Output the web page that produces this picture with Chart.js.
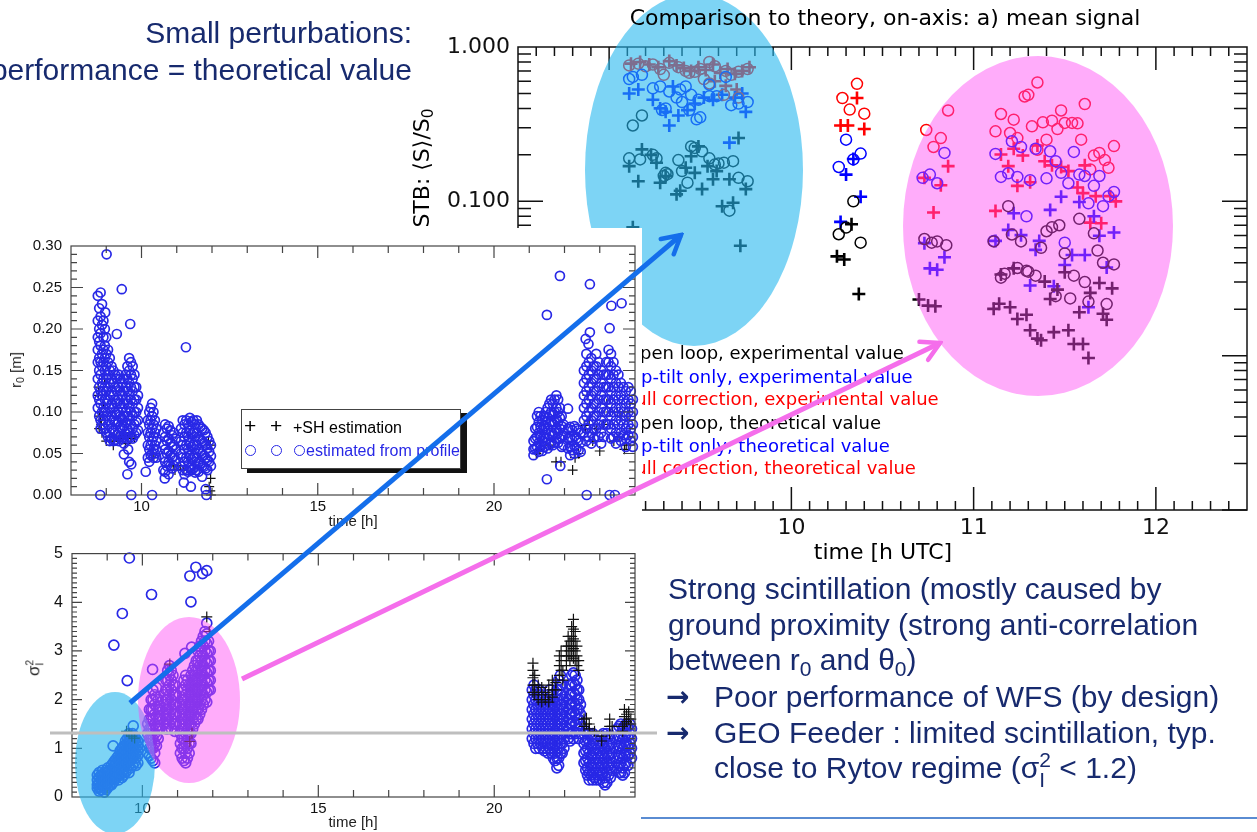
<!DOCTYPE html>
<html>
<head>
<meta charset="utf-8">
<title>Comparison to theory, on-axis</title>
<script src="https://cdn.jsdelivr.net/npm/chart.js@4.4.1/dist/chart.umd.min.js"></script>
<style>
  body { margin: 0; width: 1257px; height: 832px; overflow: hidden; background: #fff; position: relative;
         font-family: "Liberation Sans", Arial, sans-serif; }
  .abs { position: absolute; white-space: nowrap; }
  canvas { position: absolute; }
  sub { font-size: 0.7em; vertical-align: -0.3em; line-height: 0; }
  .slide { color: #172a6e; font-size: 30px; line-height: 36px; z-index: 5; }
  .arr { font-family: "DejaVu Sans", sans-serif; font-size: 28px; font-weight: bold; }
  .dv { font-family: "DejaVu Sans", sans-serif; }
  .leg { font-family: "DejaVu Sans", sans-serif; font-size: 18px; line-height: 22px; z-index: 2; left: 629px; }
  .axt { font-size: 15px; line-height: 18px; color: #222; }
  .stack { display: inline-block; vertical-align: middle; font-size: 0.6em; line-height: 0.95; text-align: left; }
  .ring { display: inline-block; width: 9px; height: 9px; border: 1.4px solid #2828e6; border-radius: 50%; }
</style>
</head>
<body>

<canvas id="meanChart" width="837" height="570" style="left:420px;top:0;z-index:1"></canvas>
<svg class="abs" width="1257" height="832" style="left:0;top:0;z-index:2">
  <ellipse cx="694" cy="170" rx="109" ry="176" fill="rgb(38,183,238)" fill-opacity="0.6"/>
  <ellipse cx="1038" cy="226" rx="135" ry="170" fill="rgb(255,71,244)" fill-opacity="0.45"/>
</svg>
<div class="abs dv" style="left:485px;width:800px;text-align:center;top:5px;font-size:22px;line-height:26px;z-index:2">Comparison to theory, on-axis: a) mean signal</div>
<div class="abs dv" style="left:421px;top:168px;font-size:22px;transform:translate(-50%,-50%) rotate(-90deg);z-index:2">STB: ⟨S⟩/S<sub>0</sub></div>
<div class="abs dv" style="left:683px;width:400px;text-align:center;top:539px;font-size:22px;line-height:26px;z-index:2">time [h UTC]</div>
<div class="abs leg" style="top:342px;color:#000">open loop, experimental value</div>
<div class="abs leg" style="top:366px;color:#0000ff">tip-tilt only, experimental value</div>
<div class="abs leg" style="top:388px;color:#ff0000">full correction, experimental value</div>
<div class="abs leg" style="top:412px;color:#000">open loop, theoretical value</div>
<div class="abs leg" style="top:435px;color:#0000ff">tip-tilt only, theoretical value</div>
<div class="abs leg" style="top:457px;color:#ff0000">full correction, theoretical value</div>

<canvas id="r0Chart" width="642" height="304" style="left:0;top:228px;z-index:3;background:#fff"></canvas>
<div class="abs" style="left:241px;top:409px;width:218px;height:58px;border:1px solid #444;background:#fff;box-shadow:6px 4px 0 #111;z-index:4;font-size:16px;line-height:18px">
  <span class="abs" style="left:2px;top:7px;font-size:21px">+</span>
  <span class="abs" style="left:28px;top:7px;font-size:21px">+</span>
  <span class="abs" style="left:51px;top:9px">+SH estimation</span>
  <span class="abs ring" style="left:3px;top:35px"></span>
  <span class="abs ring" style="left:29px;top:35px"></span>
  <span class="abs ring" style="left:52px;top:35px"></span>
  <span class="abs" style="left:64px;top:32px;color:#2828e6">estimated from profile</span>
</div>
<div class="abs axt" style="left:16px;top:370px;transform:translate(-50%,-50%) rotate(-90deg);z-index:4">r<sub>0</sub> [m]</div>
<div class="abs axt" style="left:253px;width:200px;text-align:center;top:512px;z-index:4">time [h]</div>

<canvas id="sigChart" width="660" height="297" style="left:0;top:535px;z-index:3"></canvas>
<div class="abs axt" style="left:35px;top:668px;font-size:17px;transform:translate(-50%,-50%) rotate(-90deg);z-index:4">σ<span class="stack">2<br>I</span></div>
<div class="abs axt" style="left:253px;width:200px;text-align:center;top:813px;z-index:4">time [h]</div>
<svg class="abs" width="1257" height="832" style="left:0;top:0;z-index:4">
  <ellipse cx="115" cy="763" rx="40" ry="71" fill="rgb(38,183,238)" fill-opacity="0.6"/>
  <ellipse cx="189" cy="700" rx="51" ry="83" fill="rgb(255,71,244)" fill-opacity="0.45"/>
  <line x1="50" y1="733" x2="657" y2="733" stroke="rgb(190,190,190)" stroke-width="3"/>
</svg>

<div class="abs slide" style="right:845px;top:15px;text-align:right">Small perturbations:</div>
<div class="abs slide" style="right:845px;top:52px;text-align:right">performance = theoretical value</div>

<div class="abs slide" style="left:668px;top:571px">Strong scintillation (mostly caused by</div>
<div class="abs slide" style="left:668px;top:607px">ground proximity (strong anti-correlation</div>
<div class="abs slide" style="left:668px;top:642px">between r<sub>0</sub> and θ<sub>0</sub>)</div>
<div class="abs slide arr" style="left:666px;top:679px">→</div>
<div class="abs slide" style="left:714px;top:679px">Poor performance of WFS (by design)</div>
<div class="abs slide arr" style="left:666px;top:715px">→</div>
<div class="abs slide" style="left:714px;top:715px">GEO Feeder : limited scintillation, typ.</div>
<div class="abs slide" style="left:714px;top:750px">close to Rytov regime (σ<span class="stack" style="font-size:0.7em">2<br>I</span> &lt; 1.2)</div>
<div class="abs" style="left:641px;top:817px;width:616px;height:2px;background:rgb(90,140,210);z-index:5"></div>

<svg class="abs" width="1257" height="832" style="left:0;top:0;z-index:6">
  <defs>
    <marker id="headBlue" markerUnits="userSpaceOnUse" markerWidth="26" markerHeight="26" viewBox="0 0 26 26" refX="23" refY="13" orient="auto">
      <path d="M5,3 L23,13 L5,23" fill="none" stroke="rgb(20,110,235)" stroke-width="4.5" stroke-linecap="round"/>
    </marker>
    <marker id="headPink" markerUnits="userSpaceOnUse" markerWidth="26" markerHeight="26" viewBox="0 0 26 26" refX="23" refY="13" orient="auto">
      <path d="M5,3 L23,13 L5,23" fill="none" stroke="rgb(245,110,235)" stroke-width="4.5" stroke-linecap="round"/>
    </marker>
  </defs>
  <line x1="130" y1="703" x2="681" y2="235" stroke="rgb(20,110,235)" stroke-width="5" marker-end="url(#headBlue)"/>
  <line x1="242" y1="679" x2="940" y2="343" stroke="rgb(245,110,235)" stroke-width="5" marker-end="url(#headPink)"/>
</svg>

<script>
// mean signal, [time h UTC, <S>/S0]
const openExp = [
    [9.11,0.19],[9.17,0.187],[9.24,0.20],[9.26,0.19],[9.31,0.153],[9.30,0.146],[9.38,0.185],[9.40,0.157],
    [9.43,0.132],[9.45,0.227],[9.47,0.222],[9.51,0.211],[9.55,0.19],[9.58,0.173],[9.60,0.176],[9.63,0.178],
    [9.68,0.182],[9.71,0.142],[9.76,0.135],[9.66,0.087],[9.13,0.31],[9.18,0.36],[9.32,0.15],
    [10.34,0.10],[10.30,0.0676],[10.26,0.0612],[10.38,0.054],
    [10.73,0.057],[10.77,0.054],[10.80,0.055],[10.85,0.052],[11.11,0.055],[11.19,0.093],[11.21,0.061],
    [11.26,0.055],[11.15,0.032],[11.17,0.034],[11.24,0.037],[11.30,0.035],[11.34,0.033],[11.37,0.050],
    [11.40,0.064],[11.43,0.068],[11.47,0.070],[11.50,0.046],[11.55,0.033],[11.61,0.030],[11.58,0.077],
    [11.66,0.062],[11.68,0.048],[11.71,0.040],[11.77,0.039],[11.53,0.0235],[11.45,0.0243],[11.63,0.0224],
    [11.73,0.0216],[11.29,0.0355]
];
const tiltExp = [
    [9.11,0.62],[9.13,0.64],[9.18,0.66],[9.24,0.54],[9.28,0.555],[9.33,0.515],[9.37,0.47],[9.40,0.44],
    [9.45,0.49],[9.49,0.455],[9.50,0.35],[9.55,0.48],[9.59,0.48],[9.64,0.64],[9.67,0.42],[9.71,0.43],
    [9.76,0.44],[9.29,0.39],[9.31,0.40],[9.39,0.53],[9.44,0.39],[9.48,0.34],[9.42,0.555],[9.55,0.57],
    [10.30,0.251],[10.38,0.204],[10.26,0.167],[10.34,0.187],
    [10.84,0.206],[10.72,0.142],[10.76,0.149],[10.80,0.131],[11.12,0.203],[11.15,0.144],[11.19,0.152],
    [11.21,0.245],[11.24,0.144],[11.26,0.225],[11.31,0.137],[11.34,0.219],[11.40,0.141],[11.42,0.211],
    [11.45,0.182],[11.48,0.153],[11.52,0.131],[11.55,0.209],[11.58,0.149],[11.61,0.146],[11.63,0.097],
    [11.66,0.126],[11.69,0.146],[11.71,0.093],[11.74,0.108],[11.77,0.115],[11.50,0.054],[11.29,0.080],
    [11.11,0.0554]
];
const fullExp = [
    [9.11,0.76],[9.16,0.78],[9.20,0.75],[9.24,0.77],[9.28,0.72],[9.33,0.79],[9.38,0.74],[9.42,0.70],
    [9.47,0.69],[9.50,0.72],[9.55,0.80],[9.58,0.75],[9.64,0.70],[9.67,0.66],[9.71,0.69],[9.76,0.72],
    [9.30,0.66],[9.55,0.58],[9.63,0.49],[9.71,0.47],[9.44,0.68],[9.52,0.62],
    [10.36,0.577],[10.28,0.467],[10.32,0.393],[10.40,0.37],
    [10.74,0.29],[10.82,0.257],[10.78,0.225],[10.86,0.388],[11.15,0.368],[11.22,0.338],[11.12,0.284],
    [11.20,0.277],[11.24,0.257],[11.28,0.478],[11.30,0.49],[11.35,0.589],[11.32,0.306],[11.38,0.325],
    [11.43,0.333],[11.46,0.294],[11.50,0.322],[11.54,0.322],[11.57,0.32],[11.48,0.388],[11.61,0.427],
    [11.40,0.251],[11.59,0.251],[11.66,0.198],[11.69,0.206],[11.72,0.185],[11.74,0.165],[11.77,0.228],
    [11.64,0.161],[11.35,0.216]
];
const openTheo = [
    [9.11,0.169],[9.16,0.135],[9.18,0.217],[9.23,0.20],[9.26,0.178],[9.28,0.132],[9.31,0.146],[9.37,0.111],
    [9.39,0.117],[9.42,0.165],[9.45,0.196],[9.47,0.153],[9.49,0.227],[9.51,0.12],[9.54,0.169],[9.57,0.139],
    [9.59,0.157],[9.62,0.093],[9.66,0.139],[9.68,0.098],[9.71,0.257],[9.75,0.12],[9.72,0.0515],[9.13,0.068],
    [10.33,0.071],[10.25,0.044],[10.29,0.042],[10.37,0.0251],
    [10.70,0.0231],[10.75,0.0211],[10.79,0.0209],[11.11,0.0201],[11.14,0.0217],[11.20,0.0206],[11.24,0.0173],
    [11.29,0.0184],[11.31,0.0146],[11.35,0.0129],[11.37,0.0126],[11.44,0.0142],[11.52,0.0146],[11.55,0.0119],
    [11.60,0.0119],[11.63,0.00966],[11.58,0.0191],[11.64,0.0255],[11.69,0.0296],[11.76,0.0273],[11.71,0.0187],
    [11.73,0.0171],[11.39,0.0302],[11.42,0.0233],[11.46,0.0268],[11.50,0.0347],[11.15,0.0336],[11.22,0.0368]
];
const tiltTheo = [
    [9.11,0.50],[9.16,0.53],[9.24,0.455],[9.28,0.40],[9.31,0.38],[9.35,0.555],[9.38,0.36],[9.43,0.39],
    [9.47,0.43],[9.52,0.47],[9.57,0.455],[9.62,0.49],[9.69,0.47],[9.73,0.50],[9.75,0.38],[9.33,0.31],[9.66,0.24],
    [10.34,0.188],[10.30,0.149],[10.38,0.107],[10.27,0.0736],
    [10.84,0.0434],[10.76,0.0368],[10.80,0.036],[10.73,0.0536],[11.12,0.0554],[11.19,0.0653],[11.22,0.0837],
    [11.26,0.0604],[11.31,0.0285],[11.34,0.0485],[11.36,0.0554],[11.42,0.088],[11.44,0.0282],[11.48,0.107],
    [11.50,0.0387],[11.54,0.0449],[11.61,0.0449],[11.58,0.099],[11.66,0.080],[11.69,0.0598],[11.77,0.0628],
    [11.63,0.0206],[11.73,0.0373]
];
const fullTheo = [
    [9.12,0.78],[9.17,0.80],[9.22,0.77],[9.27,0.74],[9.33,0.81],[9.37,0.76],[9.41,0.73],[9.45,0.70],
    [9.49,0.74],[9.53,0.71],[9.57,0.77],[9.61,0.68],[9.65,0.72],[9.69,0.67],[9.73,0.70],[9.77,0.74],
    [9.58,0.60],[9.64,0.56],[9.70,0.53],
    [10.36,0.467],[10.27,0.31],[10.31,0.31],[10.40,0.294],
    [10.86,0.169],[10.73,0.142],[10.82,0.127],[10.78,0.0846],[11.12,0.0867],[11.15,0.201],[11.19,0.169],
    [11.22,0.219],[11.27,0.198],[11.24,0.126],[11.31,0.133],[11.35,0.23],[11.39,0.182],[11.43,0.171],
    [11.48,0.167],[11.52,0.157],[11.57,0.123],[11.60,0.113],[11.61,0.171],[11.64,0.0728],[11.70,0.0721],
    [11.78,0.10],[11.67,0.108],[11.75,0.108]
];
const meanXLabels = [10, 11, 12];
const meanYLabels = [0.001, 0.01, 0.1, 1];

// r0 [m] against time [h]; each row is [time, value, value, ...]
const r0Profile = [
    [8.76,0.24,0.21,0.19,0.175,0.16,0.14,0.12,0.105],[8.80,0.225,0.20,0.185,0.165,0.15,0.13,0.115,0.095],
    [8.84,0.215,0.195,0.18,0.16,0.145,0.125,0.11,0.09,0.08],[8.88,0.23,0.205,0.17,0.155,0.135,0.12,0.10,0.085],
    [8.92,0.21,0.19,0.175,0.16,0.14,0.125,0.105,0.09],[8.96,0.20,0.18,0.165,0.15,0.13,0.115,0.10,0.08],
    [9.00,0.19,0.17,0.155,0.14,0.125,0.11,0.095,0.075],[9.05,0.175,0.16,0.145,0.13,0.115,0.10,0.085,0.07],
    [9.10,0.165,0.15,0.135,0.12,0.105,0.09,0.075,0.065],[9.15,0.155,0.14,0.125,0.11,0.095,0.08,0.068],
    [9.20,0.15,0.135,0.12,0.105,0.09,0.078,0.065],[9.25,0.145,0.13,0.115,0.10,0.088,0.075,0.066],
    [9.30,0.14,0.125,0.11,0.097,0.085,0.072],[9.35,0.145,0.13,0.115,0.10,0.088,0.075,0.065],
    [9.40,0.14,0.125,0.11,0.095,0.082,0.07],[9.45,0.135,0.12,0.105,0.092,0.08,0.068],
    [9.50,0.14,0.125,0.11,0.095,0.083,0.07,0.062],[9.55,0.145,0.13,0.115,0.10,0.087,0.074],
    [9.60,0.155,0.14,0.125,0.11,0.095,0.08,0.068],[9.65,0.165,0.15,0.135,0.12,0.105,0.09,0.075],
    [9.70,0.16,0.145,0.13,0.115,0.10,0.085,0.07],[9.75,0.155,0.14,0.125,0.11,0.095,0.08,0.068],
    [9.80,0.145,0.13,0.115,0.10,0.085,0.072],[9.85,0.13,0.115,0.10,0.088,0.075],[9.90,0.12,0.105,0.09,0.078],
    [9.01,0.29],[9.44,0.248],[9.68,0.206],[9.3,0.194],[8.84,0.244],[8.83,0.0],[9.71,0.0],[9.6,0.025],
    [9.71,0.037],[9.5,0.049],[9.65,0.04],[8.97,0.22],[9.62,0.055],
    [10.18,0.09,0.075,0.06,0.045],[10.22,0.10,0.085,0.07,0.055,0.04],[10.26,0.105,0.09,0.075,0.06,0.048],
    [10.30,0.11,0.095,0.08,0.065,0.05],[10.34,0.10,0.085,0.07,0.055,0.045],[10.38,0.09,0.075,0.06,0.05],
    [10.42,0.08,0.065,0.055,0.045],[10.12,0.028],[10.3,0.0],
    [10.62,0.075,0.06,0.045,0.03],[10.67,0.085,0.07,0.055,0.04,0.028],[10.72,0.08,0.065,0.05,0.035],
    [10.77,0.083,0.068,0.053,0.04,0.025],[10.82,0.078,0.063,0.048,0.035],[10.87,0.072,0.058,0.045,0.032],
    [10.92,0.075,0.06,0.047,0.035],[10.97,0.068,0.055,0.042],[10.66,0.02],
    [11.12,0.08,0.065,0.05,0.035],[11.17,0.09,0.075,0.06,0.045,0.03],[11.22,0.085,0.07,0.055,0.04,0.025],
    [11.27,0.09,0.075,0.06,0.045,0.03],[11.32,0.085,0.07,0.055,0.04,0.028],[11.37,0.093,0.078,0.063,0.048,0.033],
    [11.42,0.088,0.073,0.058,0.043,0.03],[11.47,0.09,0.075,0.06,0.045,0.032],[11.52,0.085,0.07,0.055,0.04,0.027],
    [11.57,0.09,0.075,0.06,0.045,0.03],[11.62,0.085,0.07,0.055,0.04,0.028],[11.67,0.082,0.067,0.052,0.038],
    [11.72,0.08,0.065,0.05,0.035,0.022],[11.77,0.078,0.063,0.048,0.034],[11.82,0.075,0.06,0.045,0.032],
    [11.87,0.07,0.056,0.042,0.03],[11.92,0.065,0.052,0.04],[11.97,0.06,0.047,0.035],
    [11.26,0.178],[11.2,0.015],[11.4,0.01],[11.82,0.007],[11.84,0.0],
    [21.12,0.065,0.055,0.048],[21.17,0.08,0.068,0.056],[21.22,0.095,0.082,0.07,0.058],
    [21.27,0.10,0.088,0.075,0.063,0.052],[21.32,0.095,0.082,0.07,0.058],[21.37,0.09,0.078,0.065,0.053],
    [21.42,0.095,0.083,0.07,0.058],[21.47,0.10,0.088,0.075,0.063],[21.52,0.105,0.093,0.08,0.068,0.056],
    [21.57,0.11,0.097,0.085,0.072,0.06],[21.62,0.115,0.10,0.088,0.075,0.063],[21.67,0.11,0.097,0.085,0.072,0.06],
    [21.72,0.115,0.10,0.088,0.075,0.063],[21.77,0.12,0.105,0.092,0.08,0.068],[21.82,0.115,0.10,0.088,0.075,0.063],
    [21.87,0.105,0.093,0.08,0.068],[21.92,0.095,0.083,0.07,0.058],[21.97,0.085,0.072,0.06],
    [22.10,0.08,0.068,0.056],[22.16,0.082,0.07,0.058,0.048],[22.22,0.078,0.066,0.054],
    [22.28,0.083,0.071,0.059,0.05],[22.34,0.08,0.068,0.056],[22.40,0.078,0.066,0.054],[22.46,0.075,0.063,0.052],
    [22.1,0.104],
    [22.55,0.15,0.135,0.12,0.105,0.09,0.075],[22.62,0.17,0.155,0.14,0.125,0.11,0.095,0.08,0.065],
    [22.69,0.16,0.145,0.13,0.115,0.10,0.085,0.07],[22.76,0.165,0.15,0.135,0.12,0.105,0.09,0.075,0.062],
    [22.83,0.155,0.14,0.125,0.11,0.095,0.08,0.068],[22.90,0.17,0.155,0.14,0.125,0.11,0.095,0.08],
    [22.97,0.16,0.145,0.13,0.115,0.10,0.085,0.07],[23.04,0.15,0.135,0.12,0.105,0.09,0.075,0.062],
    [23.11,0.145,0.13,0.115,0.10,0.085,0.07],[23.18,0.16,0.145,0.13,0.115,0.10,0.085],
    [23.25,0.175,0.16,0.145,0.13,0.115,0.10,0.085],[23.32,0.17,0.155,0.14,0.125,0.11,0.095,0.08,0.068],
    [23.39,0.16,0.145,0.13,0.115,0.10,0.085,0.07],[23.46,0.15,0.135,0.12,0.105,0.09,0.075,0.062],
    [23.53,0.145,0.13,0.115,0.10,0.085,0.07],[23.60,0.135,0.12,0.105,0.09,0.075,0.065],
    [23.67,0.13,0.115,0.10,0.085,0.072],[23.74,0.125,0.11,0.095,0.08,0.068,0.058],
    [23.81,0.13,0.115,0.10,0.085,0.072],[23.88,0.125,0.11,0.095,0.08,0.065],[23.94,0.115,0.10,0.085,0.07,0.058],
    [21.87,0.264],[21.5,0.217],[22.72,0.254],[23.33,0.228],[23.62,0.231],[23.28,0.201],[22.72,0.196],
    [22.6,0.188],[22.68,0.182],[21.5,0.019],[21.88,0.035],[22.63,0.0],[23.28,0.0],[23.43,0.0]
];
const r0Sh = [
    [8.78,0.13,0.12],[8.8,0.08,0.095],[8.82,0.10],[8.84,0.09],[8.86,0.085],[8.88,0.075],[8.9,0.095],[8.92,0.11],
    [9.0,0.065],[9.1,0.07],[9.2,0.065,0.06],[9.3,0.07],[9.4,0.068],[9.5,0.072],[9.6,0.07],[9.7,0.068],[9.8,0.07],
    [9.55,0.062],[8.95,0.14],[10.3,0.05],[10.35,0.045],[10.9,0.035],[10.95,0.03],[11.1,0.035],
    [11.2,0.03],[11.9,0.065],[11.95,0.06],[11.92,0.01],[11.95,0.005],[11.97,0.0],[11.96,0.02],
    [22.23,0.030],[21.76,0.040],[21.9,0.04],[23.0,0.053],[23.7,0.055],[23.75,0.06],[22.56,0.084],[22.6,0.08],
    [22.7,0.09],[22.9,0.08],[23.1,0.085],[23.3,0.1],[23.5,0.1],[23.6,0.095],[23.8,0.09],[21.3,0.055],[21.2,0.05],
    [21.6,0.06],[22.4,0.05],[22.3,0.045],[22.8,0.065],[23.4,0.065],[23.85,0.105],[22.65,0.12],[23.2,0.11],[23.55,0.07]
];
const r0XLabels = [10, 15, 20];
const r0YLabels = [0, 0.05, 0.10, 0.15, 0.20, 0.25, 0.30];

// scintillation index against time [h]; each row is [time, value, value, ...]
const sigProfile = [
    [8.72,0.45,0.35,0.25,0.18],[8.77,0.5,0.4,0.3,0.2,0.12],[8.82,0.45,0.35,0.25,0.15],
    [8.87,0.55,0.45,0.35,0.25,0.15],[8.92,0.5,0.4,0.3,0.2,0.1],[8.97,0.55,0.45,0.35,0.25,0.15],
    [9.02,0.6,0.5,0.4,0.3,0.2],[9.07,0.55,0.45,0.35,0.25],[9.12,0.65,0.55,0.45,0.35,0.25],
    [9.17,0.7,0.6,0.5,0.4,0.3],[9.22,0.75,0.65,0.55,0.45,0.35],[9.27,0.8,0.7,0.6,0.5,0.4],
    [9.32,0.85,0.75,0.65,0.55,0.45,0.35],[9.37,0.95,0.85,0.75,0.65,0.55,0.45],
    [9.42,1.0,0.9,0.8,0.7,0.6,0.5,0.4],[9.47,1.05,0.95,0.85,0.75,0.65,0.55,0.45],
    [9.52,1.15,1.05,0.95,0.85,0.75,0.65,0.5],[9.57,1.2,1.1,1.0,0.9,0.8,0.7,0.55],
    [9.62,1.3,1.2,1.1,1.0,0.9,0.8,0.65,0.5],[9.67,1.25,1.15,1.05,0.95,0.85,0.75,0.6],
    [9.72,1.3,1.2,1.1,1.0,0.9,0.8,0.65],[9.77,1.25,1.15,1.05,0.95,0.85,0.7],
    [9.82,1.2,1.1,1.0,0.9,0.8,0.65],[9.87,1.15,1.05,0.95,0.85,0.7],[9.17,1.05],[9.74,1.46],
    [10.15,1.5,1.3,1.1,0.9],[10.2,1.8,1.6,1.4,1.2,1.0,0.85],[10.25,2.0,1.8,1.6,1.4,1.2,1.0,0.8],
    [10.3,2.2,2.0,1.8,1.6,1.4,1.2,1.0,0.75],[10.35,2.1,1.9,1.7,1.5,1.3,1.1,0.9,0.7],
    [10.4,2.25,2.05,1.85,1.65,1.45,1.25,1.05],[10.45,2.0,1.8,1.6,1.4,1.2],[10.5,1.8,1.6,1.4],
    [10.62,2.1,1.9,1.7,1.5],[10.67,2.4,2.2,2.0,1.8,1.6,1.4],[10.72,2.6,2.4,2.2,2.0,1.8,1.6,1.4],
    [10.77,2.7,2.5,2.3,2.1,1.9,1.7,1.5],[10.82,2.6,2.4,2.2,2.0,1.8,1.6,1.4],[10.87,2.5,2.3,2.1,1.9,1.7,1.5],
    [10.92,2.3,2.1,1.9,1.7,1.5,1.35],[10.97,2.1,1.9,1.7,1.5],
    [11.08,1.9,1.7,1.5,1.3,1.1,0.9],[11.13,2.2,2.0,1.8,1.6,1.4,1.2,1.0,0.8],
    [11.18,2.4,2.2,2.0,1.8,1.6,1.4,1.2,1.0,0.75],[11.23,2.5,2.3,2.1,1.9,1.7,1.5,1.3,1.1,0.9,0.7],
    [11.28,2.4,2.2,2.0,1.8,1.6,1.4,1.2,1.0,0.8],[11.33,2.3,2.1,1.9,1.7,1.5,1.3,1.1,0.9],
    [11.38,2.5,2.3,2.1,1.9,1.7,1.5,1.3,1.1],[11.43,2.6,2.4,2.2,2.0,1.8,1.6,1.4],
    [11.48,2.7,2.5,2.3,2.1,1.9,1.7,1.5],[11.53,2.8,2.6,2.4,2.2,2.0,1.8,1.6],
    [11.58,3.0,2.8,2.6,2.4,2.2,2.0,1.8,1.6],[11.63,3.1,2.9,2.7,2.5,2.3,2.1,1.9,1.7],
    [11.68,3.2,3.0,2.8,2.6,2.4,2.2,2.0,1.8],[11.73,3.3,3.1,2.9,2.7,2.5,2.3,2.1,1.9],
    [11.78,3.4,3.2,3.0,2.8,2.6,2.4,2.2,2.0],[11.83,3.35,3.15,2.95,2.75,2.55,2.35,2.15,1.95],
    [11.88,3.2,3.0,2.8,2.6,2.4,2.2],[11.93,3.0,2.8,2.6,2.4,2.2],
    [9.63,4.91],[9.43,3.77],[9.19,3.12],[9.57,2.39],[10.26,4.16],[10.29,2.62],[11.35,4.54],[11.52,4.72],
    [11.71,4.59],[11.83,4.65],[11.38,4.01],[11.83,3.57],[11.21,2.95],[11.40,3.08],
    [21.08,2.2,2.0,1.8,1.6,1.4,1.2],[21.13,2.3,2.1,1.9,1.7,1.5,1.3,1.1],[21.18,2.2,2.0,1.8,1.6,1.4,1.2,1.0],
    [21.23,2.1,1.9,1.7,1.5,1.3,1.1],[21.28,2.2,2.0,1.8,1.6,1.4,1.2,1.0],[21.33,2.1,1.9,1.7,1.5,1.3,1.1],
    [21.38,2.0,1.8,1.6,1.4,1.2,1.0],[21.43,1.9,1.7,1.5,1.3,1.1,0.95],[21.48,2.0,1.8,1.6,1.4,1.2,1.0],
    [21.53,2.1,1.9,1.7,1.5,1.3,1.1,0.9],[21.58,2.2,2.0,1.8,1.6,1.4,1.2,1.0],[21.63,2.1,1.9,1.7,1.5,1.3,1.1,0.9],
    [21.68,2.0,1.8,1.6,1.4,1.2,1.0,0.8],[21.73,1.9,1.7,1.5,1.3,1.1,0.9,0.75],
    [21.78,2.2,2.0,1.8,1.6,1.4,1.2,1.0,0.8,0.6],[21.83,2.4,2.2,2.0,1.8,1.6,1.4,1.2,1.0,0.8,0.65],
    [21.88,2.5,2.3,2.1,1.9,1.7,1.5,1.3,1.1,0.9],[21.93,2.3,2.1,1.9,1.7,1.5,1.3,1.1,0.9],
    [21.98,2.0,1.8,1.6,1.4,1.2,1.0],
    [22.1,2.0,1.8,1.6,1.4,1.2],[22.15,2.3,2.1,1.9,1.7,1.5,1.3,1.15],[22.2,2.5,2.3,2.1,1.9,1.7,1.5,1.3],
    [22.25,2.55,2.35,2.15,1.95,1.75,1.55,1.35,1.2],[22.3,2.5,2.3,2.1,1.9,1.7,1.5,1.3],
    [22.35,2.4,2.2,2.0,1.8,1.6,1.4],[22.4,2.2,2.0,1.8,1.6,1.4,1.2],[22.45,1.9,1.7,1.5,1.3],
    [22.55,1.3,1.1,0.9,0.7],[22.6,1.35,1.15,0.95,0.75,0.55],[22.65,1.2,1.0,0.8,0.6,0.45],
    [22.7,1.3,1.1,0.9,0.7,0.5,0.35],[22.75,1.25,1.05,0.85,0.65,0.45],[22.8,1.3,1.1,0.9,0.7,0.5,0.35],
    [22.85,1.2,1.0,0.8,0.6,0.4],[22.9,1.1,0.9,0.7,0.5,0.35],[22.95,1.0,0.8,0.6,0.45],
    [23.0,1.1,0.9,0.7,0.5,0.35],[23.05,1.25,1.05,0.85,0.65,0.45],[23.1,1.3,1.1,0.9,0.7,0.5,0.3],
    [23.15,1.2,1.0,0.8,0.6,0.4,0.25],[23.2,1.3,1.1,0.9,0.7,0.5,0.3],[23.25,1.25,1.05,0.85,0.65,0.45],
    [23.3,1.2,1.0,0.8,0.6,0.4],[23.35,1.1,0.9,0.7,0.55],
    [23.5,1.4,1.2,1.0,0.8,0.6],[23.55,1.45,1.25,1.05,0.85,0.65,0.5],[23.6,1.5,1.3,1.1,0.9,0.7,0.5],
    [23.65,1.4,1.2,1.0,0.8,0.6,0.45],[23.7,1.45,1.25,1.05,0.85,0.65,0.5],[23.75,1.5,1.3,1.1,0.9,0.7],
    [23.8,1.45,1.25,1.05,0.85,0.65],[23.85,1.5,1.3,1.1,0.9],[23.9,1.4,1.2,1.0,0.8]
];
const sigSh = [
    [11.83,3.7],[10.78,2.73],[9.55,1.35],[9.62,1.3],[9.7,1.25],[9.78,1.21],[11.41,1.31],[11.35,1.14],[11.9,3.4],
    [21.1,2.75,2.6,2.45,2.3,2.15],[21.15,2.5,2.3,2.1],[21.25,2.3,2.15,2.0],[21.35,2.25,2.1,1.95],[21.45,2.15,2.0],
    [21.55,2.3,2.1,1.95],[21.65,2.4,2.2,2.05],[21.75,2.35,2.2],[21.85,2.9,2.7,2.5],[21.9,3.0,2.8,2.6],
    [21.95,2.6,2.4],[22.05,3.1,2.9,2.7],[22.1,3.3,3.1,2.9],[22.15,3.2,3.0,2.8],[22.2,3.5,3.3,3.1,2.9],
    [22.25,3.65,3.45,3.25,3.05,2.85],[22.3,3.4,3.2,3.0,2.8],[22.35,3.1,2.9,2.7],[22.4,2.8,2.6],
    [22.55,1.6,1.45],[22.62,1.62,1.5],[22.7,1.5,1.4],[22.85,1.35],[23.05,1.25,1.15],[23.28,1.6,1.45,1.3],
    [23.35,1.45],[23.65,1.45,1.35],[23.7,1.8,1.65,1.5],[23.76,1.7,1.55],[23.82,1.75,1.6],[23.88,1.6,1.5]
];
const sigXLabels = [10, 15, 20];
const sigYLabels = [0, 1, 2, 3, 4, 5];

// draws the closed box and inward tick marks on all four sides
const idlFrame = {
    id: 'idlFrame',
    afterDatasetsDraw(chart, args, opts) {
        const ctx = chart.ctx;
        const a = chart.chartArea;
        const x = chart.scales.x;
        const y = chart.scales.y;
        ctx.save();
        ctx.strokeStyle = opts.color;
        ctx.lineWidth = opts.width;
        ctx.strokeRect(a.left, a.top, a.right - a.left, a.bottom - a.top);
        ctx.beginPath();
        opts.xMarks.forEach(function (m) {
            const px = x.getPixelForValue(m[0]);
            ctx.moveTo(px, a.bottom); ctx.lineTo(px, a.bottom - m[1]);
            ctx.moveTo(px, a.top); ctx.lineTo(px, a.top + m[1]);
        });
        opts.yMarks.forEach(function (m) {
            const py = y.getPixelForValue(m[0]);
            ctx.moveTo(a.left, py); ctx.lineTo(a.left + m[1], py);
            ctx.moveTo(a.right, py); ctx.lineTo(a.right - m[1], py);
        });
        ctx.stroke();
        ctx.restore();
    }
};

function tickMarks(first, last, div, majorEvery, majorLen, minorLen) {
    let marks = [];
    for (let i = first; i <= last; i++) {
        marks.push([i / div, i % majorEvery === 0 ? majorLen : minorLen]);
    }
    return marks;
}

function logMarks() {
    let marks = [];
    [0.001, 0.01, 0.1].forEach(function (d) {
        for (let m = 1; m <= 9; m++) marks.push([m * d, m === 1 ? 25 : 13]);
    });
    return marks;
}

// rows are [time, value, value, ...]
function toPoints(rows) {
    let out = [];
    rows.forEach(function (r) {
        for (let i = 1; i < r.length; i++) out.push({x: r[0], y: r[i]});
    });
    return out;
}

function markers(rows, color, style, radius, width) {
    return {
        data: toPoints(rows),
        pointStyle: style,
        pointRadius: radius,
        pointHoverRadius: radius,
        pointBorderColor: color,
        pointBackgroundColor: 'rgba(0,0,0,0)',
        pointBorderWidth: width,
        showLine: false,
        clip: false
    };
}

function fixedTicks(values) {
    return function (scale) {
        scale.ticks = values.map(function (v) { return {value: v}; });
    };
}

function axis(type, min, max, labels, fit, font, padding, fmt) {
    return {
        type: type, min: min, max: max,
        grid: {display: false, drawTicks: false},
        border: {display: false},
        afterBuildTicks: fixedTicks(labels),
        afterFit: fit,
        ticks: {autoSkip: false, maxRotation: 0, padding: padding, color: '#111', font: font, callback: fmt}
    };
}

const common = {
    responsive: false,
    animation: false,
    devicePixelRatio: 1,
    events: []
};

document.addEventListener("DOMContentLoaded", function () {
    const dv = {family: '"DejaVu Sans", sans-serif', size: 22};
    const lib = {family: '"Liberation Sans", Arial, sans-serif', size: 15};

    new Chart("meanChart", {
        type: "scatter",
        data: {
            datasets: [
                markers(openExp, '#000000', 'circle', 5.5, 1.5),
                markers(tiltExp, '#0000ff', 'circle', 5.5, 1.5),
                markers(fullExp, '#ff0000', 'circle', 5.5, 1.5),
                markers(openTheo, '#000000', 'cross', 6.5, 2.6),
                markers(tiltTheo, '#0000ff', 'cross', 6.5, 2.6),
                markers(fullTheo, '#ff0000', 'cross', 6.5, 2.6)
            ]
        },
        options: Object.assign({}, common, {
            layout: {padding: {top: 47, right: 10, left: 0, bottom: 0}},
            plugins: {
                legend: {display: false}, tooltip: {enabled: false},
                idlFrame: {color: '#111', width: 1.5, xMarks: tickMarks(86, 124, 10, 10, 23, 9), yMarks: logMarks()}
            },
            scales: {
                x: axis('linear', 8.5, 12.5, meanXLabels, function (s) { s.height = 60; }, dv, 5,
                    function (v) { return String(v); }),
                y: axis('logarithmic', 0.001, 1, meanYLabels, function (s) { s.width = 98; }, dv, 8,
                    function (v) { return Number(v).toFixed(3); })
            }
        }),
        plugins: [idlFrame]
    });

    new Chart("r0Chart", {
        type: "scatter",
        data: {
            datasets: [
                markers(r0Profile, 'rgb(40,40,230)', 'circle', 4.5, 1.7),
                markers(r0Sh, '#111111', 'cross', 5, 1.2)
            ]
        },
        options: Object.assign({}, common, {
            layout: {padding: {top: 17, right: 7, left: 0, bottom: 0}},
            plugins: {
                legend: {display: false}, tooltip: {enabled: false},
                idlFrame: {color: '#444', width: 1.2, xMarks: tickMarks(9, 23, 1, 5, 12, 7), yMarks: tickMarks(1, 29, 100, 5, 12, 6)}
            },
            scales: {
                x: axis('linear', 8, 24, r0XLabels, function (s) { s.height = 37; }, lib, 3,
                    function (v) { return String(v); }),
                y: axis('linear', 0, 0.30, r0YLabels, function (s) { s.width = 71; }, lib, 9,
                    function (v) { return Number(v).toFixed(2); })
            }
        }),
        plugins: [idlFrame]
    });

    new Chart("sigChart", {
        type: "scatter",
        data: {
            datasets: [
                markers(sigSh, '#111111', 'cross', 5.5, 1.2),
                markers(sigProfile, 'rgb(40,40,230)', 'circle', 5, 1.7)
            ]
        },
        options: Object.assign({}, common, {
            layout: {padding: {top: 13, right: 25, left: 0, bottom: 0}},
            plugins: {
                legend: {display: false}, tooltip: {enabled: false},
                idlFrame: {color: '#444', width: 1.2, xMarks: tickMarks(9, 23, 1, 5, 12, 7), yMarks: tickMarks(1, 49, 10, 10, 10, 5)}
            },
            scales: {
                x: axis('linear', 8, 24, sigXLabels, function (s) { s.height = 35; }, lib, 3,
                    function (v) { return String(v); }),
                y: axis('linear', 0, 5, sigYLabels, function (s) { s.width = 72; }, Object.assign({}, lib, {size: 16}), 9,
                    function (v) { return String(v); })
            }
        }),
        plugins: [idlFrame]
    });
});
</script>
</body>
</html>
